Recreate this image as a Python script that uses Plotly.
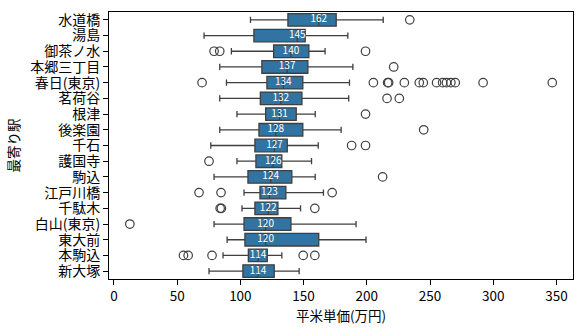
import plotly.graph_objects as go

stations = ["水道橋", "湯島", "御茶ノ水", "本郷三丁目", "春日(東京)", "茗荷谷", "根津", "後楽園",
            "千石", "護国寺", "駒込", "江戸川橋", "千駄木", "白山(東京)", "東大前", "本駒込", "新大塚"]
lower = [108, 71.3, 92.9, 83.7, 89, 83.7, 97.3, 83.7, 76.6, 97.3, 79.2, 102.9, 101.3, 79.2, 89.5, 86.3, 75.2]
q1 = [137.6, 110.7, 126.3, 117, 121, 115.8, 120, 114.7, 111.5, 112.3, 106, 115.5, 111.5, 102.9, 103.6, 106.3, 102]
median = [162, 145, 140, 137, 134, 132, 131, 128, 127, 126, 124, 123, 122, 120, 120, 114, 114]
q3 = [175.8, 151.3, 154.2, 153.4, 149.4, 148.7, 144.2, 149.4, 137.1, 132.8, 140.7, 136, 129.7, 140, 162, 121.3, 126.8]
upper = [213, 185, 167, 189, 186.3, 185.7, 159.2, 179.7, 161.6, 156.3, 159.2, 165.7, 147.6, 191.5, 199.4, 132.8, 146.5]
outliers = [
    [234],
    [],
    [79.2, 83.7, 199],
    [221.3],
    [69.7, 205.2, 216.5, 217.3, 229.7, 241.5, 244.7, 255.2, 260, 263, 266.5, 270, 292, 346.7],
    [216, 225.7],
    [199],
    [245],
    [188, 199],
    [75.2],
    [212.5],
    [67.3, 84.7, 172.6],
    [84, 85, 158.9],
    [12.6],
    [],
    [55, 58.7, 77.6, 149.7, 158.9],
    [],
]
x_ticks = [0, 50, 100, 150, 200, 250, 300, 350]

FONT = "Noto Sans CJK JP"
BOX_FILL = "#3274a1"
LINE = "#3f3f3f"

fig = go.Figure()
fig.add_trace(go.Box(
    y=stations, q1=q1, median=median, q3=q3,
    lowerfence=lower, upperfence=upper,
    orientation="h", boxpoints=False,
    fillcolor=BOX_FILL, line=dict(color=LINE, width=1.3),
    width=0.8, whiskerwidth=0.5, showlegend=False, hoverinfo="skip",
))

ox, oy = [], []
for s, vals in zip(stations, outliers):
    for v in vals:
        ox.append(v)
        oy.append(s)
fig.add_trace(go.Scatter(
    x=ox, y=oy, mode="markers",
    marker=dict(symbol="circle-open", size=8.5, color=LINE, line=dict(width=1.2, color=LINE)),
    showlegend=False, hoverinfo="skip",
))

fig.add_trace(go.Scatter(
    x=median, y=stations, mode="text",
    text=[str(m) for m in median],
    textposition="middle center",
    textfont=dict(family=FONT, size=10, color="white"),
    showlegend=False, hoverinfo="skip",
))

n = len(stations)
fig.update_layout(
    width=583, height=333,
    margin=dict(l=109, r=9, t=9, b=54),
    paper_bgcolor="white", plot_bgcolor="white",
    font=dict(family=FONT, size=13, color="black"),
    xaxis=dict(
        range=[-3.9, 363.1], tickmode="array", tickvals=x_ticks, ticktext=[str(t) for t in x_ticks],
        showgrid=False, zeroline=False,
        showline=True, mirror=True, linecolor="black", linewidth=1,
        ticks="outside", ticklen=5, tickcolor="black", tickwidth=1,
        tickfont=dict(family=FONT, size=13.5),
        title=dict(text="平米単価(万円)", font=dict(family=FONT, size=13.5), standoff=3),
    ),
    yaxis=dict(
        type="category", categoryorder="array", categoryarray=stations,
        tickmode="array", tickvals=stations, ticktext=stations,
        range=[n - 0.5, -0.5],
        showgrid=False, zeroline=False,
        showline=True, mirror=True, linecolor="black", linewidth=1,
        ticks="outside", ticklen=5, tickcolor="black", tickwidth=1,
        tickfont=dict(family=FONT, size=14),
        title=dict(text="最寄り駅", font=dict(family=FONT, size=13.5), standoff=7),
    ),
)

fig.write_html("out.html")
